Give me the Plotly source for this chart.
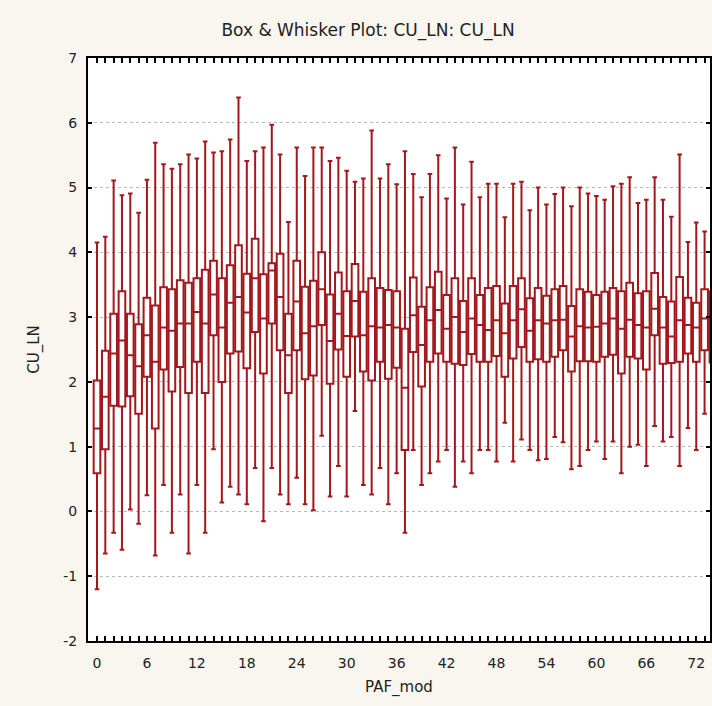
import plotly.graph_objects as go

# PAF_mod categories
categories = list(range(75))

# CU_LN summary values per category
mins = [-1.20, -0.65, -0.33, -0.59, 0.03, -0.19, 0.25, -0.68, 0.41, -0.33,
        0.26, -0.65, 0.41, -0.33, 0.96, 0.14, 0.38, 0.26, 0.11, 0.67,
        -0.15, 0.67, 0.26, 0.11, 0.52, 0.11, 0.02, 1.17, 0.23, 0.70,
        0.23, 1.55, 0.41, 0.26, 0.67, 0.11, 0.59, -0.33, 0.95, 0.41,
        0.59, 0.77, 0.95, 0.38, 0.77, 0.59, 0.95, 0.95, 0.77, 1.37,
        0.77, 1.11, 0.95, 0.79, 0.81, 1.15, 1.07, 0.65, 0.70, 0.95,
        1.08, 0.81, 1.08, 0.59, 1.00, 1.03, 0.70, 1.32, 1.08, 1.15,
        0.70, 1.29, 0.95, 1.51, 0.59]
q1s = [0.59, 0.96, 1.63, 1.62, 1.78, 1.51, 2.08, 1.28, 2.19, 1.85,
       2.23, 1.83, 2.31, 1.83, 2.72, 2.00, 2.44, 2.47, 2.21, 2.77,
       2.13, 2.90, 2.49, 1.83, 2.49, 2.04, 2.10, 2.88, 1.97, 2.50,
       2.08, 2.70, 2.16, 2.02, 2.31, 2.05, 2.22, 0.95, 2.46, 1.93,
       2.31, 2.44, 2.31, 2.28, 2.26, 2.43, 2.31, 2.31, 2.40, 2.08,
       2.36, 2.54, 2.31, 2.35, 2.31, 2.39, 2.49, 2.16, 2.32, 2.32,
       2.31, 2.39, 2.42, 2.13, 2.39, 2.36, 2.19, 2.72, 2.28, 2.29,
       2.31, 2.44, 2.31, 2.49, 2.30]
medians = [1.28, 1.77, 2.44, 2.64, 2.41, 2.24, 2.72, 2.31, 2.84, 2.79,
           2.90, 2.90, 3.08, 2.90, 3.35, 2.84, 3.22, 3.31, 3.07, 3.60,
           2.98, 3.72, 3.31, 2.41, 3.24, 2.75, 2.86, 3.43, 2.63, 3.05,
           2.71, 3.25, 2.72, 2.86, 2.84, 2.88, 2.84, 1.91, 3.03, 2.57,
           2.95, 3.11, 2.82, 3.00, 2.77, 2.98, 2.88, 2.80, 2.95, 2.75,
           2.95, 3.12, 2.79, 2.95, 2.90, 2.95, 2.96, 2.70, 2.86, 2.84,
           2.85, 2.90, 2.98, 2.82, 2.96, 2.88, 2.84, 3.13, 2.84, 2.70,
           2.95, 2.88, 2.84, 2.98, 2.90]
q3s = [2.02, 2.48, 3.05, 3.40, 3.05, 2.89, 3.30, 3.18, 3.46, 3.43,
       3.57, 3.53, 3.60, 3.73, 3.87, 3.60, 3.80, 4.11, 3.67, 4.21,
       3.66, 3.83, 3.98, 3.05, 3.87, 3.47, 3.56, 4.00, 3.35, 3.69,
       3.40, 3.82, 3.39, 3.60, 3.45, 3.42, 3.40, 2.82, 3.61, 3.16,
       3.46, 3.70, 3.34, 3.60, 3.25, 3.60, 3.34, 3.45, 3.48, 3.21,
       3.48, 3.60, 3.29, 3.45, 3.33, 3.43, 3.48, 3.17, 3.43, 3.39,
       3.34, 3.39, 3.45, 3.40, 3.53, 3.37, 3.40, 3.68, 3.31, 3.24,
       3.62, 3.30, 3.22, 3.43, 3.40]
maxs = [4.15, 4.24, 5.11, 4.88, 4.91, 4.61, 5.12, 5.69, 5.36, 5.29,
        5.36, 5.51, 5.45, 5.71, 5.54, 5.56, 5.74, 6.39, 5.41, 5.56,
        5.62, 5.97, 5.51, 4.47, 5.62, 5.18, 5.62, 5.62, 5.41, 5.46,
        5.26, 5.09, 5.14, 5.88, 5.14, 5.36, 5.05, 5.56, 5.21, 4.85,
        5.21, 5.50, 4.83, 5.62, 4.74, 5.40, 4.85, 5.06, 5.06, 4.54,
        5.06, 5.09, 4.65, 5.00, 4.74, 4.90, 5.00, 4.71, 5.00, 4.91,
        4.87, 4.81, 5.02, 5.06, 5.16, 4.76, 4.81, 5.16, 4.81, 4.55,
        5.51, 4.16, 4.46, 4.32, 4.86]

x_ticks = list(range(0, 73, 6))
y_ticks = list(range(-2, 8))
y_labels = [str(v) for v in y_ticks]

RED = "#a3181c"
FONT = "DejaVu Sans, Verdana, sans-serif"

fig = go.Figure(
    go.Box(
        x=categories,
        q1=q1s,
        median=medians,
        q3=q3s,
        lowerfence=mins,
        upperfence=maxs,
        width=0.8,
        whiskerwidth=0.7,
        line=dict(color=RED, width=2),
        fillcolor="white",
        boxpoints=False,
        showlegend=False,
        hoverinfo="skip",
    )
)

fig.update_layout(
    width=712,
    height=706,
    margin=dict(l=88, r=0, t=58, b=65),
    paper_bgcolor="#f8f6ee",
    plot_bgcolor="white",
    font=dict(family=FONT, size=14, color="#222222"),
    title=dict(
        text="Box &amp; Whisker Plot: CU_LN: CU_LN",
        x=368 / 712,
        xanchor="center",
        y=1 - 30 / 706,
        yanchor="middle",
        font=dict(family=FONT, size=17, color="#222222"),
    ),
    xaxis=dict(
        range=[-1.08, 73.65],
        tickvals=x_ticks,
        ticks="inside",
        ticklen=5,
        tickwidth=2,
        tickcolor="black",
        minor=dict(dtick=1, tick0=0, ticks="inside", ticklen=5, tickwidth=2, tickcolor="black"),
        showline=True,
        linecolor="black",
        linewidth=2,
        mirror="allticks",
        showgrid=False,
        zeroline=False,
        ticklabelstandoff=8,
        title=dict(text="PAF_mod", font=dict(family=FONT, size=15), standoff=12),
        tickfont=dict(family=FONT, size=14),
    ),
    yaxis=dict(
        range=[-2, 7],
        tickvals=y_ticks,
        ticktext=y_labels,
        ticks="inside",
        ticklen=4,
        tickwidth=2,
        tickcolor="black",
        showline=True,
        linecolor="black",
        linewidth=2,
        mirror="allticks",
        showgrid=True,
        gridcolor="#b8b8b8",
        griddash="dot",
        gridwidth=1,
        zeroline=False,
        ticklabelstandoff=6,
        title=dict(text="CU_LN", font=dict(family=FONT, size=15), standoff=20),
        tickfont=dict(family=FONT, size=14),
    ),
)

fig.write_html(
    "out.html",
    config={"displayModeBar": False},
    post_script="document.body.style.margin='0';document.body.style.overflow='hidden';",
)
